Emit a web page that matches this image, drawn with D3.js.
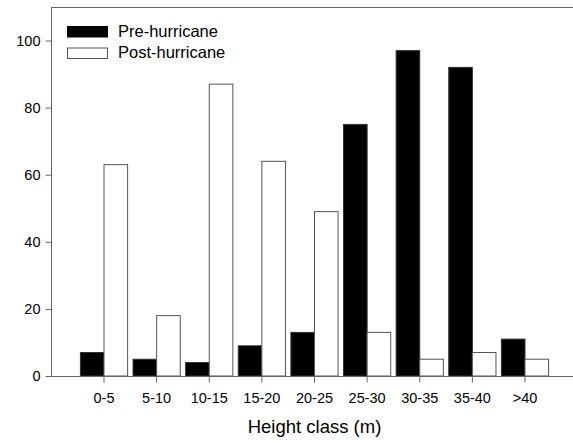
<!DOCTYPE html>
<html>
<head>
<meta charset="utf-8">
<script src="https://cdn.jsdelivr.net/npm/d3@7"></script>
<style>
  body { margin: 0; background: #fff; }
  text { font-family: "Liberation Sans", Arial, sans-serif; fill: #000; }
</style>
</head>
<body>
<svg id="chart" width="573" height="443"></svg>
<script>
// data
var classes = ["0-5", "5-10", "10-15", "15-20", "20-25", "25-30", "30-35", "35-40", ">40"];
var preHurricane  = [7, 5, 4, 9, 13, 75, 97, 92, 11];
var postHurricane = [63, 18, 87, 64, 49, 13, 5, 7, 5];
var yTicks = [0, 20, 40, 60, 80, 100];
var seriesNames = ["Pre-hurricane", "Post-hurricane"];

var svg = d3.select("#chart");
// plot edges (window.top is reserved, so prefix these)
var plotLeft = 51, plotRight = 573, plotTop = 7, plotBottom = 376;

var x = d3.scaleBand()
  .domain(classes)
  .range([77.7, 551.3]);

var y = d3.scaleLinear()
  .domain([0, 110])
  .range([plotBottom, plotTop]);

var barW = 23.6;

// frame top line
svg.append("line")
  .attr("x1", plotLeft).attr("x2", plotRight)
  .attr("y1", plotTop + 0.5).attr("y2", plotTop + 0.5)
  .attr("stroke", "#666");

// bars
var rows = classes.map(function(c, i) {
  return {cls: c, pre: preHurricane[i], post: postHurricane[i]};
});

svg.append("g").selectAll("rect.pre")
  .data(rows)
  .enter().append("rect")
  .attr("class", "pre")
  .attr("x", function(d) { return x(d.cls) + x.bandwidth() / 2 - barW; })
  .attr("y", function(d) { return y(d.pre); })
  .attr("width", barW)
  .attr("height", function(d) { return plotBottom - y(d.pre); })
  .attr("fill", "#000")
  .attr("stroke", "#333");

svg.append("g").selectAll("rect.post")
  .data(rows)
  .enter().append("rect")
  .attr("class", "post")
  .attr("x", function(d) { return x(d.cls) + x.bandwidth() / 2; })
  .attr("y", function(d) { return y(d.post); })
  .attr("width", barW)
  .attr("height", function(d) { return plotBottom - y(d.post); })
  .attr("fill", "#fff")
  .attr("stroke", "#555");

// y axis
var yAxis = svg.append("g")
  .attr("transform", "translate(" + (plotLeft + 0.5) + ",0)")
  .call(d3.axisLeft(y).tickValues(yTicks).tickSize(6).tickPadding(5));
yAxis.select(".domain").attr("d", "M0," + plotTop + "V" + plotBottom);

// x axis
var xAxis = svg.append("g")
  .attr("transform", "translate(0," + (plotBottom + 0.5) + ")")
  .call(d3.axisBottom(x).tickSize(6).tickPadding(10));
xAxis.select(".domain").attr("d", "M" + plotLeft + ",0H" + plotRight);

svg.selectAll(".domain, .tick line").attr("stroke", "#666");
svg.selectAll(".tick text")
  .style("font-family", "'Liberation Sans', Arial, sans-serif")
  .style("font-size", "14.5px")
  .attr("fill", "#000");

// axis title
svg.append("text")
  .attr("x", 314.5)
  .attr("y", 433)
  .attr("text-anchor", "middle")
  .style("font-size", "18.5px")
  .text("Height class (m)");

// legend
var legend = svg.append("g");
seriesNames.forEach(function(name, i) {
  var ly = 26 + i * 21.5;
  legend.append("rect")
    .attr("x", 67.5).attr("y", ly + 0.5)
    .attr("width", 40).attr("height", 10.5)
    .attr("fill", i === 0 ? "#000" : "#fff")
    .attr("stroke", i === 0 ? "#000" : "#555");
  legend.append("text")
    .attr("x", 118)
    .attr("y", ly + 10.5)
    .style("font-size", "16.5px")
    .text(name);
});
</script>
</body>
</html>
